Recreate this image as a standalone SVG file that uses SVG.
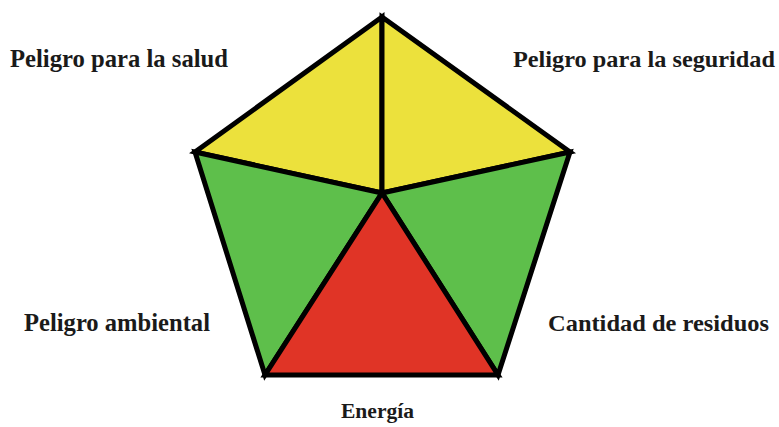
<svg xmlns="http://www.w3.org/2000/svg" width="779" height="427" viewBox="0 0 779 427">
<style>
.lbl{font-family:"Liberation Serif","Times New Roman",serif;font-weight:bold;fill:#1a1a1a;}
.tri{stroke:#000;stroke-width:5;stroke-linejoin:miter;}
.y{fill:#ECE13C;}
.g{fill:#5EBF4B;}
.r{fill:#E03426;}
</style>
<rect width="779" height="427" fill="#fff"/>
<g id="pentagon">
<g id="seg-salud"><polygon class="tri y" points="382,17 195,152 382,193"/></g>
<g id="seg-seguridad"><polygon class="tri y" points="382,17 570,152 382,193"/></g>
<g id="seg-ambiental"><polygon class="tri g" points="195,152 265,375 382,193"/></g>
<g id="seg-residuos"><polygon class="tri g" points="570,152 498,375 382,193"/></g>
<g id="seg-energia"><polygon class="tri r" points="265,375 498,375 382,193"/></g>
</g>
<g id="labels">
<text class="lbl" x="10" y="67" font-size="25" textLength="218" lengthAdjust="spacingAndGlyphs">Peligro para la salud</text>
<text class="lbl" x="513" y="67" font-size="24" textLength="262" lengthAdjust="spacingAndGlyphs">Peligro para la seguridad</text>
<text class="lbl" x="24" y="331" font-size="25" textLength="186" lengthAdjust="spacingAndGlyphs">Peligro ambiental</text>
<text class="lbl" x="548" y="331" font-size="24" textLength="221" lengthAdjust="spacingAndGlyphs">Cantidad de residuos</text>
<text class="lbl" x="341" y="418" font-size="20" textLength="73" lengthAdjust="spacingAndGlyphs">Energía</text>
</g>
</svg>
